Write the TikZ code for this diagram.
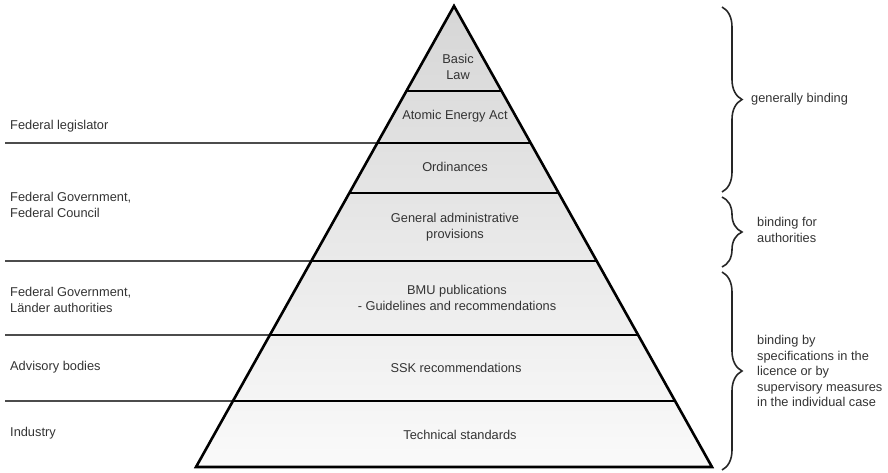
\documentclass[tikz,border=0pt]{standalone}
\usepackage{fontspec}
\setmainfont{Liberation Sans}
\usetikzlibrary{calc,decorations.pathreplacing}
\definecolor{inkgray}{HTML}{333333}
\tikzset{
  layertext/.style={align=center,text=inkgray,inner sep=0pt,
    font=\fontsize{12.8}{15.5}\selectfont},
  actor/.style={anchor=west,align=left,text=inkgray,inner sep=0pt,
    font=\fontsize{12.8}{15.5}\selectfont},
  binding/.style={anchor=west,align=left,text=inkgray,inner sep=0pt,
    font=\fontsize{12.8}{15.5}\selectfont},
  tier/.style={line width=2.6pt,black,line join=miter},
  guide/.style={line width=1.3pt,black!70},
  curly/.style={decorate,decoration={brace,amplitude=20pt},
    line width=1.6pt,black!85}}

\begin{document}
\begin{tikzpicture}[x=1pt,y=-1pt]
  \useasboundingbox (0,0) rectangle (888,472);
  \coordinate (apex) at (454,6);
  \coordinate (bl) at (196,467);
  \coordinate (br) at (712,467);
  \coordinate (margin) at (5,0);
  % layer boundaries on both sides of the pyramid
  \foreach \t/\n in {0.1844/a,0.2972/b,0.4056/c,0.5531/d,0.7137/e,0.8568/f}{
    \coordinate (l\n) at ($(apex)!\t!(bl)$);
    \coordinate (r\n) at ($(apex)!\t!(br)$);}
  \foreach \n in {b,d,e,f} \draw[guide] (margin |- l\n) -- (l\n);
  \fill[top color=black!16,bottom color=black!2] (apex) -- (bl) -- (br) -- cycle;
  \foreach \n in {a,...,f} \draw[tier] (l\n) -- (r\n);
  \draw[tier] (apex) -- (bl) -- (br) -- cycle;
  % layers
  \node[layertext] (basic) at (458,67) {Basic\\Law};
  \node[layertext] (aea) at (455,116) {Atomic Energy Act};
  \node[layertext] (ord) at (455,167) {Ordinances};
  \node[layertext] (gav) at (455,227) {General administrative\\provisions};
  \node[layertext] (bmu) at (457,298) {BMU publications\\- Guidelines and recommendations};
  \node[layertext] (ssk) at (456,368) {SSK recommendations};
  \node[layertext] (tech) at (460,435) {Technical standards};
  % issuing bodies
  \node[actor] (legis) at (10,126) {Federal legislator};
  \node[actor] (council) at (10,205) {Federal Government,\\Federal Council};
  \node[actor] (laender) at (10,300) {Federal Government,\\Länder authorities};
  \node[actor] (advisory) at (10,367) {Advisory bodies};
  \node[actor] (industry) at (10,433) {Industry};
  % binding effect
  \coordinate (c1t) at (722,7);   \coordinate (c1b) at (722,192);
  \coordinate (c2t) at (722,197); \coordinate (c2b) at (722,267);
  \coordinate (c3t) at (722,272); \coordinate (c3b) at (722,470);
  \draw[curly] (c1t) -- (c1b);
  \draw[curly] (c2t) -- (c2b);
  \draw[curly] (c3t) -- (c3b);
  \node[binding] (general) at (751,99) {generally binding};
  \node[binding] (authorities) at (757,230) {binding for\\authorities};
  \node[binding] (licence) at (757,371) {binding by\\specifications in the\\licence or by\\supervisory measures\\in the individual case};
\end{tikzpicture}
\end{document}
